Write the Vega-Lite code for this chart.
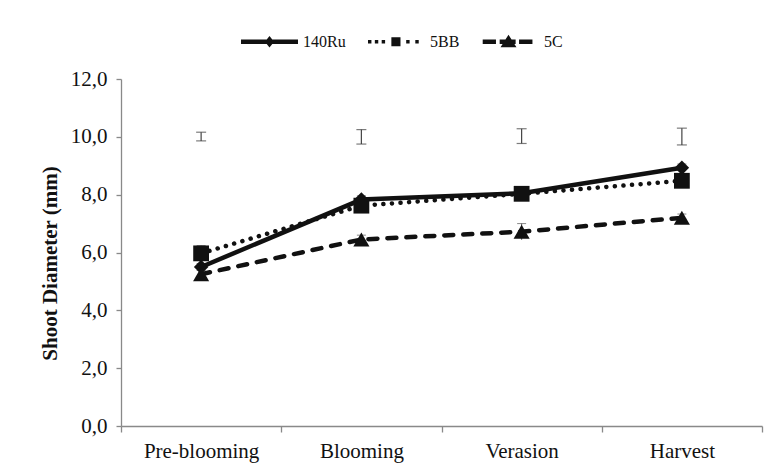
{
  "$schema": "https://vega.github.io/schema/vega-lite/v6.json",
  "width": 641,
  "height": 347,
  "autosize": {"type": "none"},
  "padding": {"left": 121, "top": 79, "right": 14, "bottom": 46},
  "background": "white",
  "config": {
    "view": {"stroke": null},
    "font": "Liberation Serif",
    "axis": {
      "domainColor": "#898989",
      "tickColor": "#898989",
      "domainWidth": 1.3,
      "tickWidth": 1.3,
      "labelFont": "Liberation Serif",
      "labelFontSize": 21,
      "labelColor": "#111111",
      "titleFont": "Liberation Serif",
      "titleFontSize": 21,
      "titleColor": "#111111",
      "grid": false
    },
    "legend": {
      "orient": "none",
      "direction": "horizontal",
      "legendX": 120,
      "legendY": -66,
      "padding": 0,
      "symbolSize": 3249,
      "symbolStrokeWidth": 0,
      "symbolOpacity": 1,
      "labelFont": "Liberation Serif",
      "labelFontSize": 16,
      "labelColor": "#111111",
      "labelOffset": 5,
      "columnPadding": 22
    }
  },
  "datasets": {
    "series": [
      {"series": "140Ru", "stage": "Pre-blooming", "value": 5.5, "lo": 5.38, "hi": 5.62},
      {"series": "140Ru", "stage": "Blooming", "value": 7.83, "lo": 7.7, "hi": 7.96},
      {"series": "140Ru", "stage": "Verasion", "value": 8.05, "lo": 7.93, "hi": 8.17},
      {"series": "140Ru", "stage": "Harvest", "value": 8.93, "lo": 8.8, "hi": 9.06},
      {"series": "5BB", "stage": "Pre-blooming", "value": 5.97, "lo": 5.7, "hi": 6.24},
      {"series": "5BB", "stage": "Blooming", "value": 7.62, "lo": 7.48, "hi": 7.76},
      {"series": "5BB", "stage": "Verasion", "value": 8.03, "lo": 7.9, "hi": 8.16},
      {"series": "5BB", "stage": "Harvest", "value": 8.48, "lo": 8.35, "hi": 8.61},
      {"series": "5C", "stage": "Pre-blooming", "value": 5.25, "lo": 5.12, "hi": 5.38},
      {"series": "5C", "stage": "Blooming", "value": 6.45, "lo": 6.3, "hi": 6.6},
      {"series": "5C", "stage": "Verasion", "value": 6.72, "lo": 6.44, "hi": 7.0},
      {"series": "5C", "stage": "Harvest", "value": 7.2, "lo": 7.07, "hi": 7.33}
    ],
    "lsd": [
      {"stage": "Pre-blooming", "lo": 9.86, "hi": 10.16},
      {"stage": "Blooming", "lo": 9.75, "hi": 10.25},
      {"stage": "Verasion", "lo": 9.77, "hi": 10.28},
      {"stage": "Harvest", "lo": 9.72, "hi": 10.3}
    ]
  },
  "encoding": {
    "x": {
      "field": "stage",
      "type": "nominal",
      "sort": ["Pre-blooming", "Blooming", "Verasion", "Harvest"],
      "scale": {"domain": ["Pre-blooming", "Blooming", "Verasion", "Harvest"], "paddingInner": 0, "paddingOuter": 0},
      "axis": {"title": null, "labelAngle": 0, "tickBand": "extent", "tickSize": 6, "labelPadding": 8}
    }
  },
  "layer": [
    {
      "data": {"name": "lsd"},
      "mark": {"type": "rule", "color": "#444444", "strokeWidth": 1.2},
      "encoding": {
        "y": {"field": "lo", "type": "quantitative", "title": "Shoot Diameter (mm)"},
        "y2": {"field": "hi"}
      }
    },
    {
      "data": {"name": "lsd"},
      "mark": {"type": "tick", "color": "#444444", "thickness": 1.2, "size": 10},
      "encoding": {"y": {"field": "lo", "type": "quantitative", "title": "Shoot Diameter (mm)"}}
    },
    {
      "data": {"name": "lsd"},
      "mark": {"type": "tick", "color": "#444444", "thickness": 1.2, "size": 10},
      "encoding": {"y": {"field": "hi", "type": "quantitative", "title": "Shoot Diameter (mm)"}}
    },
    {
      "data": {"name": "series"},
      "mark": {"type": "rule", "color": "#555555", "strokeWidth": 1},
      "encoding": {
        "y": {"field": "lo", "type": "quantitative", "title": "Shoot Diameter (mm)"},
        "y2": {"field": "hi"}
      }
    },
    {
      "data": {"name": "series"},
      "mark": {"type": "tick", "color": "#555555", "thickness": 1, "size": 9},
      "encoding": {"y": {"field": "hi", "type": "quantitative", "title": "Shoot Diameter (mm)"}}
    },
    {
      "data": {"name": "series"},
      "transform": [{"filter": "datum.series === '140Ru'"}],
      "mark": {"type": "line", "strokeWidth": 4.5, "strokeCap": "round", "color": "#111111"},
      "encoding": {"y": {"field": "value", "type": "quantitative", "title": "Shoot Diameter (mm)"}}
    },
    {
      "data": {"name": "series"},
      "transform": [{"filter": "datum.series === '140Ru'"}],
      "mark": {"type": "point", "shape": "diamond", "filled": true, "opacity": 1, "color": "#111111", "strokeWidth": 0, "size": 210},
      "encoding": {"y": {"field": "value", "type": "quantitative", "title": "Shoot Diameter (mm)"}}
    },
    {
      "data": {"name": "series"},
      "transform": [{"filter": "datum.series === '5BB'"}],
      "mark": {"type": "line", "strokeWidth": 4.5, "strokeCap": "round", "strokeDash": [0.1, 8.5], "color": "#111111"},
      "encoding": {"y": {"field": "value", "type": "quantitative", "title": "Shoot Diameter (mm)"}}
    },
    {
      "data": {"name": "series"},
      "transform": [{"filter": "datum.series === '5BB'"}],
      "mark": {"type": "point", "shape": "square", "filled": true, "opacity": 1, "color": "#111111", "strokeWidth": 0, "size": 250},
      "encoding": {"y": {"field": "value", "type": "quantitative", "title": "Shoot Diameter (mm)"}}
    },
    {
      "data": {"name": "series"},
      "transform": [{"filter": "datum.series === '5C'"}],
      "mark": {"type": "line", "strokeWidth": 4.5, "strokeCap": "round", "strokeDash": [9, 10], "color": "#111111"},
      "encoding": {"y": {"field": "value", "type": "quantitative", "title": "Shoot Diameter (mm)"}}
    },
    {
      "data": {"name": "series"},
      "transform": [{"filter": "datum.series === '5C'"}],
      "mark": {"type": "point", "shape": "triangle-up", "filled": true, "opacity": 1, "color": "#111111", "strokeWidth": 0, "size": 260},
      "encoding": {"y": {"field": "value", "type": "quantitative", "title": "Shoot Diameter (mm)"}}
    },
    {
      "data": {"name": "series"},
      "mark": {"type": "point", "filled": true, "opacity": 0, "color": "#111111", "strokeWidth": 0, "size": 1},
      "encoding": {
        "y": {
          "field": "value",
          "type": "quantitative",
          "title": "Shoot Diameter (mm)",
          "scale": {"domain": [0, 12], "nice": false},
          "axis": {
            "values": [0, 2, 4, 6, 8, 10, 12],
            "labelExpr": "replace(format(datum.value, '.1f'), '.', ',')",
            "tickSize": 5,
            "labelPadding": 9,
            "titleFontWeight": "bold",
            "titlePadding": 10,
            "titleY": 184
          }
        },
        "shape": {
          "field": "series",
          "type": "nominal",
          "scale": {
            "domain": ["140Ru", "5BB", "5C"],
            "range": [
              "M-1,-0.08H1V0.08H-1Z M0,-0.2L0.16,0L0,0.2L-0.16,0Z",
              "M-1,-0.06H-0.88V0.06H-1Z M-0.76,-0.06H-0.64V0.06H-0.76Z M-0.52,-0.06H-0.4V0.06H-0.52Z M-0.18,-0.16H0.14V0.16H-0.18Z M0.34,-0.06H0.46V0.06H0.34Z M0.66,-0.06H0.78V0.06H0.66Z",
              "M-0.975,-0.08H-0.51V0.08H-0.975Z M-0.38,-0.08H0.18V0.08H-0.38Z M0.3,-0.08H0.77V0.08H0.3Z M-0.07,-0.25L0.21,0.19H-0.35Z"
            ]
          },
          "legend": {"title": null, "symbolFillColor": "#111111", "symbolOpacity": 1}
        }
      }
    }
  ]
}
